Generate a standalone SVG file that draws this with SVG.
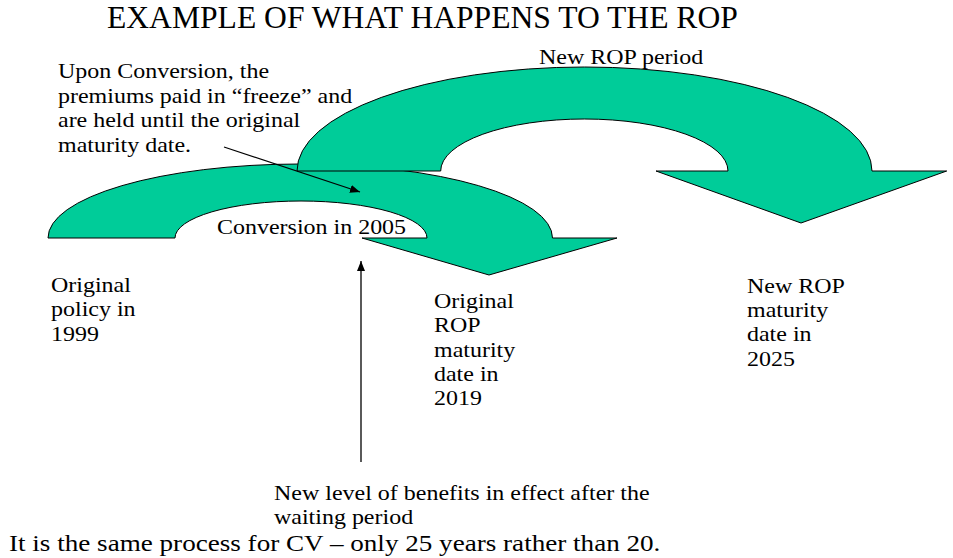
<svg xmlns="http://www.w3.org/2000/svg" width="953" height="558" viewBox="0 0 953 558">
  <style>
    .bg { fill: #ffffff; }
    .band { fill: #00cc99; stroke: #000000; stroke-width: 1; stroke-linejoin: miter; }
    .lbl { font-family: "Liberation Serif", "Times New Roman", serif; font-size: 22px; fill: #000000; }
    .big { font-size: 24px; }
    .ttl { font-family: "Liberation Serif", "Times New Roman", serif; font-size: 31.6px; fill: #000000; }
    .lead { stroke: #000000; stroke-width: 1.3; fill: none; }
  </style>
  <defs>
    <marker id="tip" viewBox="0 0 10 8" refX="10" refY="4" markerWidth="10" markerHeight="8" markerUnits="userSpaceOnUse" orient="auto">
      <path d="M0,0 L10,4 L0,8 Z" fill="#000000"/>
    </marker>
  </defs>

  <rect class="bg" x="0" y="0" width="953" height="558"/>

  <g id="title">
    <text class="ttl" x="107" y="28">EXAMPLE OF WHAT HAPPENS TO THE ROP</text>
  </g>

  <!-- original ROP period: curved arrow from 1999 to 2019 -->
  <g id="arrow-original">
    <path class="band" d="M48,238 A252.25,74 0 0 1 552.5,238 L617,238 L489,275 L362,238 L427,238 A126,37 0 0 0 175,238 Z"/>
  </g>

  <!-- new ROP period: curved arrow ending in 2025, drawn over the first one -->
  <g id="arrow-new">
    <path class="band" d="M297,171 A287.5,104 0 0 1 872,171 L946.7,171 L801,223 L656,171 L728,171 A143.65,52 0 0 0 440.7,171 Z"/>
  </g>

  <g id="label-new-period" transform="translate(539,0) scale(1.09,1)">
    <text class="lbl" x="0" y="64">New ROP period</text>
  </g>

  <g id="label-freeze" transform="translate(58,0) scale(1.09,1)">
    <text class="lbl" x="0" y="78.5">Upon Conversion, the</text>
    <text class="lbl" x="0" y="103">premiums paid in “freeze” and</text>
    <text class="lbl" x="0" y="127.5">are held until the original</text>
    <text class="lbl" x="0" y="152">maturity date.</text>
  </g>

  <g id="label-conversion" transform="translate(217,0) scale(1.09,1)">
    <text class="lbl" x="0" y="234">Conversion in 2005</text>
  </g>

  <g id="label-1999" transform="translate(51,0) scale(1.09,1)">
    <text class="lbl" x="0" y="292">Original</text>
    <text class="lbl" x="0" y="316.5">policy in</text>
    <text class="lbl" x="0" y="341">1999</text>
  </g>

  <g id="label-2019" transform="translate(434,0) scale(1.09,1)">
    <text class="lbl" x="0" y="308">Original</text>
    <text class="lbl" x="0" y="332.3">ROP</text>
    <text class="lbl" x="0" y="356.6">maturity</text>
    <text class="lbl" x="0" y="380.9">date in</text>
    <text class="lbl" x="0" y="405.2">2019</text>
  </g>

  <g id="label-2025" transform="translate(747,0) scale(1.09,1)">
    <text class="lbl" x="0" y="293">New ROP</text>
    <text class="lbl" x="0" y="317.2">maturity</text>
    <text class="lbl" x="0" y="341.4">date in</text>
    <text class="lbl" x="0" y="365.6">2025</text>
  </g>

  <g id="label-benefits" transform="translate(274,0) scale(1.09,1)">
    <text class="lbl" x="0" y="500">New level of benefits in effect after the</text>
    <text class="lbl" x="0" y="524.5">waiting period</text>
  </g>

  <g id="note-cv" transform="translate(9,0) scale(1.13,1)">
    <text class="lbl big" x="0" y="551">It is the same process for CV – only 25 years rather than 20.</text>
  </g>

  <g id="connectors">
    <line class="lead" x1="224" y1="147" x2="360" y2="192" marker-end="url(#tip)"/>
    <line class="lead" x1="361" y1="462" x2="361" y2="261" marker-end="url(#tip)"/>
  </g>
</svg>
